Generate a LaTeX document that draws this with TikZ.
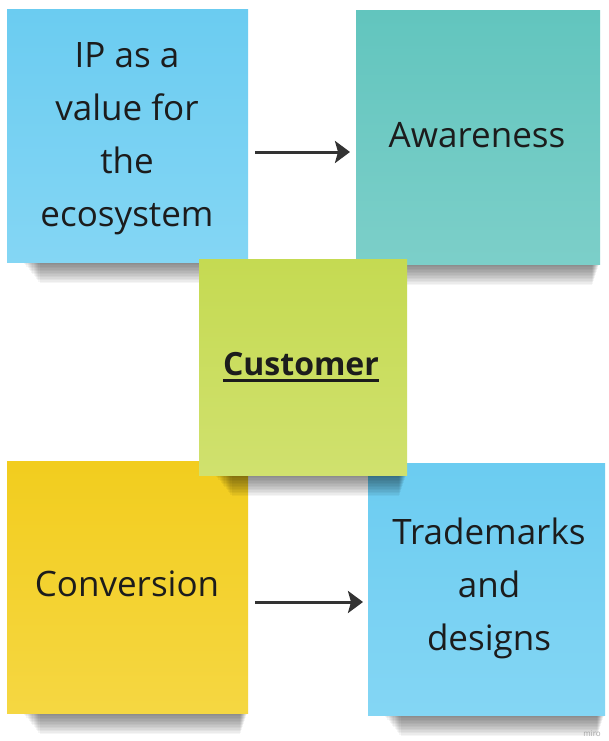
\documentclass[tikz,border=0pt]{standalone}
\usepackage{fontspec}
\setmainfont{Open Sans}
\usetikzlibrary{arrows.meta}

\definecolor{inkc}{HTML}{1C1C1C}
\definecolor{arrowc}{HTML}{333333}
\definecolor{blueT}{HTML}{6BCCF1}
\definecolor{blueB}{HTML}{84D6F4}
\definecolor{tealT}{HTML}{62C5BE}
\definecolor{tealB}{HTML}{7CCFC9}
\definecolor{greenT}{HTML}{C5DA52}
\definecolor{greenB}{HTML}{D0E16E}
\definecolor{yellT}{HTML}{F2CD1E}
\definecolor{yellB}{HTML}{F5D742}

\pgfdeclarelayer{paper}
\pgfdeclarelayer{shadowsback}
\pgfdeclarelayer{notesback}
\pgfdeclarelayer{shadowsfront}
\pgfsetlayers{paper,shadowsback,notesback,shadowsfront,main}

% soft drop shadow under the lower edge of a note, built from stacked
% translucent strips
\newcommand{\noteshadow}[1]{%
  \foreach \k in {1,...,14}{%
    \fill[black, opacity=0.04]
      ([xshift={(16+1.2*\k)*1pt}, yshift=6pt]#1.south west) rectangle
      ([xshift={(-1-0.5*\k)*1pt}, yshift={(-1.5*\k)*1pt}]#1.south east);
  }%
}

\tikzset{
  sticky/.style={rectangle, inner sep=0pt, anchor=center},
  notetext/.style={text=inkc, align=center, inner sep=0pt,
    font=\fontsize{35}{53}\selectfont},
  flow/.style={draw=arrowc, line width=3pt,
    -{Stealth[length=15pt,width=22pt,inset=3pt]}},
}

\begin{document}
\begin{tikzpicture}[x=1pt,y=-1pt]
  \useasboundingbox (0,0) rectangle (608,741);
  \begin{pgfonlayer}{paper}
    \fill[white] (0,0) rectangle (608,741);
  \end{pgfonlayer}

  % outer sticky notes
  \begin{pgfonlayer}{notesback}
    \node[sticky, minimum width=241pt, minimum height=252pt,
          top color=blueT, bottom color=blueB] (ip) at (127.5,136) {};
    \node[sticky, minimum width=244pt, minimum height=253pt,
          top color=tealT, bottom color=tealB] (aw) at (478,137.5) {};
    \node[sticky, minimum width=241pt, minimum height=252pt,
          top color=yellT, bottom color=yellB] (cv) at (127.5,587) {};
    \node[sticky, minimum width=237pt, minimum height=252pt,
          top color=blueT, bottom color=blueB] (tm) at (486.5,589) {};
  \end{pgfonlayer}
  \begin{pgfonlayer}{shadowsback}
    \noteshadow{ip}
    \noteshadow{aw}
    \noteshadow{cv}
    \noteshadow{tm}
  \end{pgfonlayer}

  % central note, lying on top of the others
  \node[sticky, minimum width=208pt, minimum height=216pt,
        top color=greenT, bottom color=greenB] (cu) at (303,367) {};
  \begin{pgfonlayer}{shadowsfront}
    \noteshadow{cu}
  \end{pgfonlayer}

  % note texts
  \node[notetext] (ipt) at (127,139) {IP as a\\value for\\the\\ecosystem};
  \node[notetext] (awt) at (477,135) {Awareness};
  \node[notetext] (cvt) at (127,584) {Conversion};
  \node[notetext] (tmt) at (489,588) {Trademarks\\and\\designs};
  \node[text=inkc, inner sep=0pt, font=\fontsize{32}{36}\selectfont\bfseries]
        (cut) at (301,364) {Customer};
  \draw[draw=inkc, line width=3pt]
        ([yshift=-5pt]cut.base west) -- ([yshift=-5pt]cut.base east);

  % arrows
  \coordinate (a1s) at (255,152);
  \coordinate (a1e) at (350,152);
  \coordinate (a2s) at (255,602);
  \coordinate (a2e) at (363,602);
  \draw[flow] (a1s) -- (a1e);
  \draw[flow] (a2s) -- (a2e);

  % watermark
  \node[text=black!35, inner sep=0pt, font=\fontsize{8}{9}\selectfont]
        (wm) at (592,734) {miro};
\end{tikzpicture}
\end{document}
